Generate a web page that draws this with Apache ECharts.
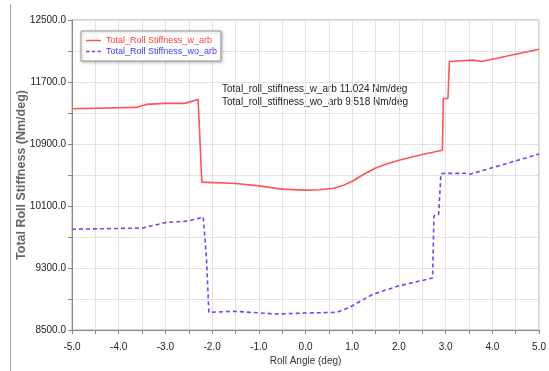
<!DOCTYPE html>
<html>
<head>
<meta charset="utf-8">
<script src="https://cdn.jsdelivr.net/npm/echarts@6/dist/echarts.min.js"></script>
<style>
  html, body { margin: 0; padding: 0; background: #fff; }
  #main { width: 549px; height: 371px; }
</style>
</head>
<body>
<div id="main"></div>
<script>
// roll angle (deg) / stiffness (Nm/deg)
const angleW = [-5.0, -3.63, -3.41, -3.0, -2.59, -2.3, -2.22, -1.5, -1.0, -0.5, 0.0, 0.3, 0.6, 0.8, 1.0, 1.25, 1.5, 1.75, 2.0, 2.5, 2.93, 2.95, 3.05, 3.08, 3.58, 3.77, 5.0];
const stiffW = [11355, 11372, 11411, 11424, 11424, 11475, 10408, 10390, 10360, 10318, 10305, 10310, 10330, 10365, 10420, 10510, 10590, 10645, 10690, 10764, 10819, 11488, 11488, 11964, 11982, 11964, 12123];

const angleWo = [-5.0, -3.49, -3.0, -2.5, -2.19, -2.12, -2.07, -1.52, -0.6, 0.03, 0.67, 0.94, 1.2, 1.45, 2.0, 2.72, 2.75, 2.85, 2.9, 3.45, 3.52, 5.0];
const stiffWo = [9800, 9816, 9886, 9907, 9958, 9420, 8728, 8741, 8706, 8719, 8728, 8792, 8880, 8963, 9070, 9170, 9975, 9990, 10520, 10522, 10510, 10770];

const seriesNames = ['Total_Roll Stiffness_w_arb', 'Total_Roll Stiffness_wo_arb'];
const noteLines = [
  'Total_roll_stiffness_w_arb 11.024 Nm/deg',
  'Total_roll_stiffness_wo_arb 9.518 Nm/deg'
];

// y axis starts at 8500 with 400 steps -> plot offset from base so ticks line up
const yBase = 8500;
const yTop = 12500;

const FONT = '"Liberation Sans", Arial, sans-serif';

function pairs(xs, ys) {
  return xs.map((x, i) => [x, ys[i] - yBase]);
}

const chart = echarts.init(document.getElementById('main'));

const option = {
  animation: false,
  backgroundColor: '#fff',
  grid: {
    left: 72, right: 4, top: 20, bottom: 40,
    show: true,
    borderColor: '#aaa',
    borderWidth: 1
  },
  legend: {
    orient: 'vertical',
    left: 81,
    top: 31,
    padding: [5, 4, 5, 5],
    itemGap: 2,
    itemWidth: 15,
    itemHeight: 12,
    itemTextGap: 1,
    backgroundColor: '#fff',
    borderColor: '#999',
    borderWidth: 1,
    shadowColor: 'rgba(0,0,0,0.25)',
    shadowBlur: 3,
    shadowOffsetX: 1,
    shadowOffsetY: 1,
    data: [
      {
        name: seriesNames[0],
        icon: 'path://M0,0h15v1.5h-15z',
        textStyle: { color: '#ff3b3b' }
      },
      {
        name: seriesNames[1],
        icon: 'path://M0,0h3.5v1.5h-3.5z M5.75,0h3.5v1.5h-3.5z M11.5,0h3.5v1.5h-3.5z',
        textStyle: { color: '#3a3aff' }
      }
    ],
    textStyle: { fontFamily: FONT, fontSize: 9 }
  },
  xAxis: {
    type: 'value',
    min: -5,
    max: 5,
    interval: 0.5,
    name: 'Roll Angle (deg)',
    nameLocation: 'middle',
    nameGap: 26,
    nameMoveOverlap: false,
    nameTextStyle: { fontFamily: FONT, fontSize: 10, color: '#333' },
    axisLine: { onZero: false, lineStyle: { color: '#888' } },
    axisTick: { show: true, length: 4, lineStyle: { color: '#888' } },
    axisLabel: {
      fontFamily: FONT, fontSize: 10, color: '#222', margin: 12,
      formatter: (v) => Number.isInteger(v) ? v.toFixed(1) : ''
    },
    splitLine: { show: true, lineStyle: { color: '#e2e2e2' } }
  },
  yAxis: {
    type: 'value',
    min: 0,
    max: yTop - yBase,
    interval: 400,
    name: 'Total Roll Stiffness (Nm/deg)',
    nameLocation: 'middle',
    nameGap: 44,
    nameMoveOverlap: false,
    nameTextStyle: { fontFamily: FONT, fontSize: 12.5, fontWeight: 'bold', color: '#666' },
    axisLine: { show: true, onZero: false, lineStyle: { color: '#888' } },
    axisTick: { show: true, length: 4, lineStyle: { color: '#888' } },
    axisLabel: {
      fontFamily: FONT, fontSize: 10, color: '#222', margin: 6,
      formatter: (v) => v % 800 === 0 ? (v + yBase).toFixed(1) : ''
    },
    splitLine: { show: true, lineStyle: { color: '#e2e2e2' } }
  },
  graphic: [
    {
      type: 'line',
      shape: { x1: 10.5, y1: 4, x2: 10.5, y2: 371 },
      style: { stroke: '#aaa', lineWidth: 1 }
    },
    {
      type: 'text',
      left: 222,
      top: 82,
      style: {
        text: noteLines.join('\n'),
        font: '10px ' + FONT,
        fill: '#222',
        lineHeight: 13.5
      }
    }
  ],
  series: [
    {
      name: seriesNames[0],
      type: 'line',
      data: pairs(angleW, stiffW),
      showSymbol: false,
      symbol: 'none',
      lineStyle: { color: '#ff5555', width: 1.6 },
      itemStyle: { color: '#ff5555' }
    },
    {
      name: seriesNames[1],
      type: 'line',
      data: pairs(angleWo, stiffWo),
      showSymbol: false,
      symbol: 'none',
      lineStyle: { color: '#5252ff', width: 1.6, type: [4, 3] },
      itemStyle: { color: '#5252ff' }
    }
  ]
};

chart.setOption(option);
</script>
</body>
</html>
